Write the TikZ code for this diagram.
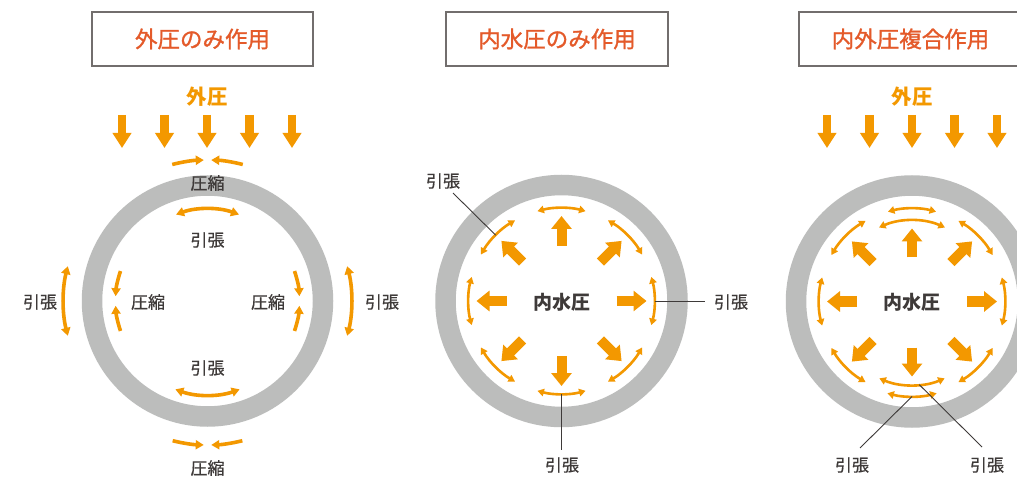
\documentclass[tikz,border=0pt]{standalone}
\usepackage{fontspec}
\newfontfamily\jp{Noto Sans CJK JP}
\newfontfamily\jpm[FakeBold=0.5]{Noto Sans CJK JP}
\newfontfamily\jpt[FakeBold=1.2]{Noto Sans CJK JP}
\usetikzlibrary{arrows.meta,calc}
\definecolor{org}{HTML}{F39800}
\definecolor{ttl}{HTML}{E45A2A}
\definecolor{ringc}{HTML}{BCBDBC}
\definecolor{txt}{HTML}{3E3A39}
\definecolor{boxc}{HTML}{726E6D}
\tikzset{
  lbl/.style={font=\jpm\fontsize{17}{17}\selectfont, text=txt, inner sep=0pt},
  ttlbox/.style={draw=boxc, line width=1.2pt, font=\jpt\fontsize{22.5}{22.5}\selectfont, text=ttl, minimum height=54pt, inner sep=0pt},
  extlbl/.style={font=\jp\bfseries\fontsize{20.5}{20.5}\selectfont, text=org, inner sep=0pt},
  inlbl/.style={font=\jp\bfseries\fontsize{19}{19}\selectfont, text=txt, inner sep=0pt},
  ringst/.style={draw=ringc, line width=20.5pt},
  downA/.style={draw=org, line width=8.3pt, -{Triangle[length=15pt,width=18pt]}},
  bigA/.style={draw=org, line width=10pt, -{Triangle[length=13pt,width=20pt]}},
  oneA/.style={draw=org, line width=3.6pt, -{Triangle[length=8pt,width=9pt]}},
  twoA/.style={draw=org, line width=3.6pt, {Triangle[length=8pt,width=9pt]}-{Triangle[length=8pt,width=9pt]}},
  arcA/.style={draw=org, line width=2.6pt, {Triangle[length=6.5pt,width=7.5pt]}-{Triangle[length=6.5pt,width=7.5pt]}},
  leader/.style={draw=txt, line width=0.9pt}
}
\begin{document}
\begin{tikzpicture}[x=1pt,y=1pt]
\useasboundingbox (0,0) rectangle (1017,477);
\clip (0,0) rectangle (1017,477);
\fill[white] (0,0) rectangle (1017,477);
\coordinate (c1) at (207.5,176);
\coordinate (c2) at (561.5,176);
\coordinate (c3) at (912,175.5);

% ---------- titles ----------
\node[ttlbox, minimum width=221pt] (t1) at (202.5,438) {外圧のみ作用};
\node[ttlbox, minimum width=222pt] (t2) at (557,438) {内水圧のみ作用};
\node[ttlbox, minimum width=223pt] (t3) at (910.5,438) {内外圧複合作用};

% ---------- rings ----------
\draw[ringst] (c1) circle[radius=115.5];
\draw[ringst] (c2) circle[radius=116];
\draw[ringst] (c3) circle[radius=116];

% ---------- panel 1 ----------
\node[extlbl] (e1) at (207,380) {外圧};
\foreach \x in {122,164.5,207,249.5,292}{
  \draw[downA] (\x,362) -- (\x,329);
}
\draw[oneA] ($(c1)+(104.5:141)$) arc[start angle=104.5, end angle=91.5, radius=141];
\draw[oneA] ($(c1)+(75.5:141)$) arc[start angle=75.5, end angle=88.5, radius=141];
\node[lbl] (k1t) at (207.5,294) {圧縮};
\draw[twoA] ($(c1)+(110:92)$) arc[start angle=110, end angle=70, radius=92];
\node[lbl] (h1t) at (207.5,237) {引張};
\draw[twoA] ($(c1)+(250:94)$) arc[start angle=250, end angle=290, radius=94];
\node[lbl] (h1b) at (207.5,109) {引張};
\draw[oneA] ($(c1)+(256:144)$) arc[start angle=256, end angle=268.5, radius=144];
\draw[oneA] ($(c1)+(284:144)$) arc[start angle=284, end angle=271.5, radius=144];
\node[lbl] (k1b) at (207.5,9) {圧縮};
\draw[oneA] ($(c1)+(161:92)$) arc[start angle=161, end angle=177, radius=92];
\draw[oneA] ($(c1)+(199:92)$) arc[start angle=199, end angle=183, radius=92];
\node[lbl] (k1l) at (148,175) {圧縮};
\draw[oneA] ($(c1)+(19:92)$) arc[start angle=19, end angle=3, radius=92];
\draw[oneA] ($(c1)+(-19:92)$) arc[start angle=-19, end angle=-3, radius=92];
\node[lbl] (k1r) at (268,175) {圧縮};
\draw[twoA] ($(c1)+(166:144)$) arc[start angle=166, end angle=194, radius=144];
\node[lbl] (h1l) at (40,175) {引張};
\draw[twoA] ($(c1)+(14:144)$) arc[start angle=14, end angle=-14, radius=144];
\node[lbl] (h1r) at (382,175) {引張};

% ---------- panel 2 ----------
\node[inlbl] (w2) at (562,175) {内水圧};
\foreach \a in {0,45,...,315}{
  \draw[bigA] ($(c2)+(\a:55)$) -- ($(c2)+(\a:85)$);
  \draw[arcA] ($(c2)+({\a-15}:93)$) arc[start angle=\a-15, end angle=\a+15, radius=93];
}
\coordinate (p2tl) at ($(c2)+(135:93)$);
\coordinate (p2r) at ($(c2)+(0:93)$);
\coordinate (p2b) at ($(c2)+(270:93)$);
\node[lbl] (l2tl) at (443,296) {引張};
\node[lbl] (l2r) at (731,175) {引張};
\node[lbl] (l2b) at (562,12) {引張};
\coordinate (s2tl) at (453,284);
\coordinate (s2r) at (705,176);
\coordinate (s2b) at (561.5,27);
\draw[leader] (s2tl) -- (p2tl);
\draw[leader] (p2r) -- (s2r);
\draw[leader] (p2b) -- (s2b);

% ---------- panel 3 ----------
\node[extlbl] (e3) at (912,380) {外圧};
\foreach \x in {827,869.5,912,954.5,997}{
  \draw[downA] (\x,362) -- (\x,329);
}
\node[inlbl] (w3) at (912,175) {内水圧};
\foreach \a in {0,45,135,180,225,315}{
  \draw[bigA] ($(c3)+(\a:55)$) -- ($(c3)+(\a:85)$);
}
\draw[bigA] ($(c3)+(90:44)$) -- ($(c3)+(90:73)$);
\draw[bigA] ($(c3)+(270:46)$) -- ($(c3)+(270:75)$);
\foreach \a in {0,45,90,135,180,225,315}{
  \draw[arcA] ($(c3)+({\a-15}:93)$) arc[start angle=\a-15, end angle=\a+15, radius=93];
}
\draw[arcA] ($(c3)+(255:95)$) arc[start angle=255, end angle=285, radius=95];
\draw[arcA] ($(c3)+(66:81)$) arc[start angle=66, end angle=114, radius=81];
\draw[arcA] ($(c3)+(247:83.5)$) arc[start angle=247, end angle=293, radius=83.5];
\coordinate (p3a) at ($(c3)+(270:95)$);
\coordinate (p3b) at ($(c3)+(275:83.5)$);
\node[lbl] (l3a) at (852,12) {引張};
\node[lbl] (l3b) at (987,12) {引張};
\coordinate (s3a) at (860,29);
\coordinate (s3b) at (982,30);
\draw[leader] (p3a) -- (s3a);
\draw[leader] (p3b) -- (s3b);
\end{tikzpicture}
\end{document}
